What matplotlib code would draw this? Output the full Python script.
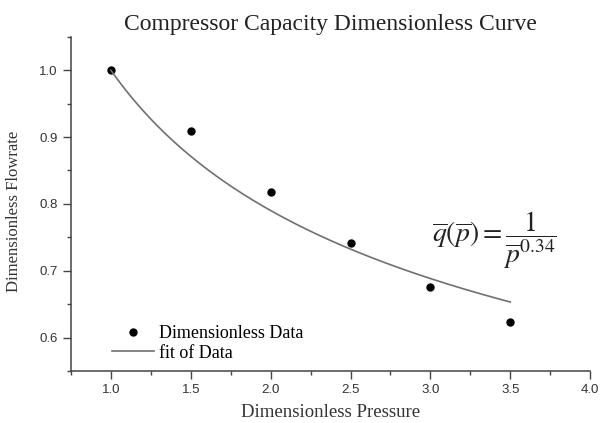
import numpy as np
import matplotlib
matplotlib.use("Agg")
import matplotlib.pyplot as plt

# data
pressure = [1.0, 1.5, 2.0, 2.5, 3.0, 3.5]
flowrate = [1.0, 0.909, 0.818, 0.741, 0.676, 0.624]
fit_exp = 0.34

plt.rcParams['mathtext.fontset'] = 'stix'

fig = plt.figure(figsize=(6.01, 4.23), dpi=100)
ax = fig.add_axes([0.118, 0.123, 0.864, 0.79])

xf = np.linspace(1.0, 3.5, 200)
ax.plot(pressure, flowrate, 'o', color='black', markersize=5, label='Dimensionless Data')
ax.plot(xf, xf ** -fit_exp, color='#707070', lw=1.2, label='fit of Data')

ax.set_xlim(0.75, 4.0)
ax.set_ylim(0.55, 1.05)
ax.set_xticks([1.0, 1.5, 2.0, 2.5, 3.0, 3.5, 4.0])
ax.set_xticks(np.arange(0.75, 4.01, 0.25), minor=True)
ax.set_yticks([0.6, 0.7, 0.8, 0.9, 1.0])
ax.set_yticks(np.arange(0.55, 1.051, 0.05), minor=True)
for s in ['top', 'right']:
    ax.spines[s].set_visible(False)
for s in ['left', 'bottom']:
    ax.spines[s].set_color('#444444')
    ax.spines[s].set_linewidth(1.1)
ax.tick_params(which='both', direction='out', colors='#444444', labelsize=9.5, width=1.0)
ax.tick_params(which='major', length=6)
ax.tick_params(which='minor', length=3)
for lbl in ax.get_xticklabels() + ax.get_yticklabels():
    lbl.set_family('Liberation Sans')
    lbl.set_color('#333333')

ax.set_title('Compressor Capacity Dimensionless Curve', family='Liberation Serif',
             fontsize=17, color='#222222', pad=5)
ax.set_xlabel('Dimensionless Pressure', family='Liberation Serif', fontsize=13.5,
              color='#333333', labelpad=6)
ax.set_ylabel('Dimensionless Flowrate', family='Liberation Serif', fontsize=12,
              color='#333333')
ax.yaxis.set_label_coords(-0.094, 0.477)

ax.text(3.4, 0.745, r'$\overline{q}(\overline{p}) = \dfrac{1}{\overline{p}^{0.34}}$',
        fontsize=20, ha='center', va='center', color='#222222')

ax.legend(loc='lower left', bbox_to_anchor=(0.055, -0.01), frameon=False,
          prop={'family': 'Liberation Serif', 'size': 13}, handlelength=2.3,
          handletextpad=0.3, labelspacing=0.15, borderaxespad=0.3)

fig.savefig('out.png', dpi=100)
